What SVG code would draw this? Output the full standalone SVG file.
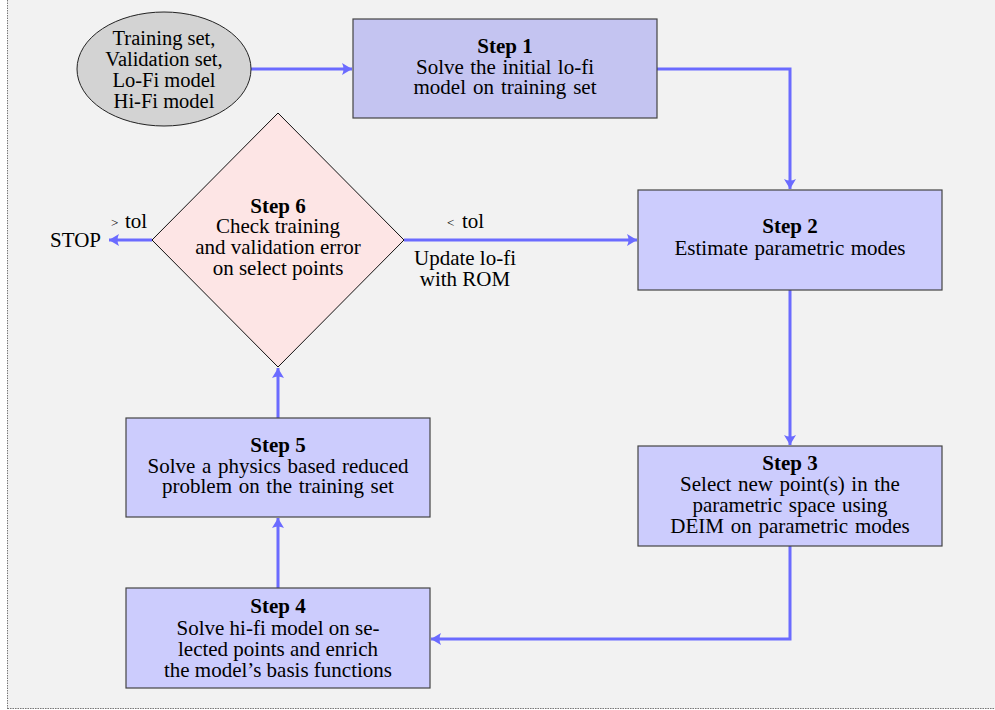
<svg xmlns="http://www.w3.org/2000/svg" width="995" height="710" viewBox="0 0 995 710">
<defs>
<style>
.t{font-family:"Liberation Serif","Times New Roman",serif;font-size:21px;fill:#000;text-anchor:middle}
.b{font-weight:bold}
.box{fill:#ccccfd;stroke:#444;stroke-width:1.2}
.con{fill:none;stroke:#6b6bff;stroke-width:3;marker-end:url(#ah)}
.sm{font-family:"Liberation Serif","Times New Roman",serif;font-size:13px;fill:#000}
.lb{font-family:"Liberation Serif","Times New Roman",serif;font-size:21px;fill:#000}
</style>
<marker id="ah" markerUnits="userSpaceOnUse" markerWidth="12" markerHeight="14" refX="10" refY="6" orient="auto">
<path d="M0,0 L10,6 L0,12 Q3,6 0,0 z" fill="#6b6bff"/>
</marker>
</defs>
<rect x="0" y="0" width="995" height="710" fill="#ffffff"/>
<rect x="8" y="0" width="987" height="709" fill="#f2f2f2"/>
<line x1="7.5" y1="0" x2="7.5" y2="709" stroke="#777" stroke-width="1" stroke-dasharray="1.5,1"/>
<line x1="7.5" y1="708.5" x2="995" y2="708.5" stroke="#777" stroke-width="1" stroke-dasharray="1.5,1"/>

<g id="connectors">
<path class="con" d="M251,69 H352"/>
<path class="con" d="M657,69 H790 V189"/>
<path class="con" d="M790,290 V445"/>
<path class="con" d="M790,546 V639 H431"/>
<path class="con" d="M278,588 V518"/>
<path class="con" d="M278,418 V368"/>
<path class="con" d="M152,240 H109"/>
<path class="con" d="M404,240 H637"/>
<text class="lb" x="111" y="228"><tspan style="font-size:13px" dy="-1">&gt;</tspan><tspan x="125" dy="1">tol</tspan></text>
<text class="lb" x="447" y="228"><tspan style="font-size:13px" dy="-1">&lt;</tspan><tspan x="462" dy="1">tol</tspan></text>
<text class="t" x="465" y="265">Update lo-fi<tspan x="465" dy="21">with ROM</tspan></text>
<text class="lb" x="50" y="247">STOP</text>
</g>

<g id="input">
<ellipse cx="164" cy="69" rx="87" ry="57" fill="#d3d3d3" stroke="#222" stroke-width="1"/>
<text class="t" x="164" y="45" style="font-size:20.5px">Training set,<tspan x="164" dy="21">Validation set,</tspan><tspan x="164" dy="21">Lo-Fi model</tspan><tspan x="164" dy="21">Hi-Fi model</tspan></text>
</g>

<g id="step1">
<rect class="box" x="353" y="19" width="304" height="99" style="fill:#c4c4f1"/>
<text class="t" x="505" y="53"><tspan class="b">Step 1</tspan><tspan x="505" dy="21" word-spacing="1.2">Solve the initial lo-fi</tspan><tspan x="505" dy="20" word-spacing="1.7">model on training set</tspan></text>
</g>

<g id="step2">
<rect class="box" x="638" y="190" width="304" height="100"/>
<text class="t" x="790" y="233"><tspan class="b">Step 2</tspan><tspan x="790" dy="22" word-spacing="1.2">Estimate parametric modes</tspan></text>
</g>

<g id="step3">
<rect class="box" x="638" y="446" width="304" height="100"/>
<text class="t" x="790" y="470"><tspan class="b">Step 3</tspan><tspan x="790" dy="21" word-spacing="1.3">Select new point(s) in the</tspan><tspan x="790" dy="21" word-spacing="1.3">parametric space using</tspan><tspan x="790" dy="21" word-spacing="1.5">DEIM on parametric modes</tspan></text>
</g>

<g id="step4">
<rect class="box" x="126" y="588" width="304" height="100"/>
<text class="t" x="278" y="613"><tspan class="b">Step 4</tspan><tspan x="278" dy="22">Solve hi-fi model on se-</tspan><tspan x="278" dy="21">lected points and enrich</tspan><tspan x="278" dy="21">the model’s basis functions</tspan></text>
</g>

<g id="step5">
<rect class="box" x="126" y="418" width="304" height="99"/>
<text class="t" x="278" y="452"><tspan class="b">Step 5</tspan><tspan x="278" dy="21" word-spacing="1.4">Solve a physics based reduced</tspan><tspan x="278" dy="20" word-spacing="1.4">problem on the training set</tspan></text>
</g>

<g id="step6">
<polygon points="278,113 404,240 278,367 152,240" fill="#fde5e5" stroke="#111" stroke-width="1"/>
<text class="t" x="278" y="213"><tspan class="b">Step 6</tspan><tspan x="278" dy="20">Check training</tspan><tspan x="278" dy="21">and validation error</tspan><tspan x="278" dy="21">on select points</tspan></text>
</g>
</svg>
